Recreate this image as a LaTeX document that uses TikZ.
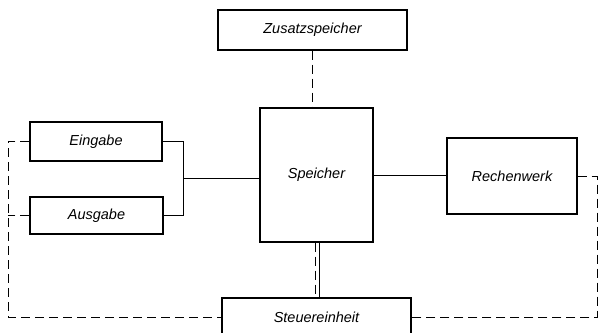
\documentclass[tikz,border=0pt]{standalone}
\usepackage{fontspec}
\setmainfont{Liberation Sans}
\begin{document}
\begin{tikzpicture}[x=1pt,y=-1pt,
  blk/.style={draw,line width=1.3pt,rectangle,inner sep=0pt,
    font=\fontsize{14.5}{17}\selectfont\itshape},
  conn/.style={line width=0.9pt},
  dconn/.style={line width=0.9pt,dash pattern=on 9pt off 5pt}]
\useasboundingbox (0,0) rectangle (599,332);
\node[blk,minimum width=189pt,minimum height=40pt] (Z) at (312.5,30) {Zusatzspeicher};
\node[blk,minimum width=113pt,minimum height=134pt] (S) at (316.5,175) {Speicher};
\node[blk,minimum width=132pt,minimum height=39pt] (E) at (96,141.5) {Eingabe};
\node[blk,minimum width=133pt,minimum height=37pt] (A) at (96.5,215.5) {Ausgabe};
\node[blk,minimum width=130pt,minimum height=76pt] (R) at (512,176) {Rechenwerk};
\node[blk,minimum width=189pt,minimum height=38pt] (St) at (316.5,317) {Steuereinheit};
\coordinate (j) at (183,178);
\coordinate (lc) at (8,0);
\coordinate (rc) at (597,0);
% solid connectors
\draw[conn] (E.east) -- (E.east -| j) -- (A.east -| j) -- (A.east);
\draw[conn] (j) -- (j -| S.west);
\draw[conn] (S.east) -- (S.east -| R.west);
\draw[conn] ([xshift=2.5pt]S.south) -- ([xshift=2.5pt]S.south |- St.north);
% dashed connectors
\draw[dconn] (Z.south) -- (Z.south |- S.north);
\draw[dconn] ([xshift=-1.5pt]S.south) -- ([xshift=-1.5pt]S.south |- St.north);
\draw[dconn] (E.west) -- (E.west -| lc) -- (lc |- St.west) -- (St.west);
\draw[dconn] (A.west) -- (A.west -| lc);
\draw[dconn] (R.east) -- (R.east -| rc) -- (rc |- St.east) -- (St.east);
\end{tikzpicture}
\end{document}
